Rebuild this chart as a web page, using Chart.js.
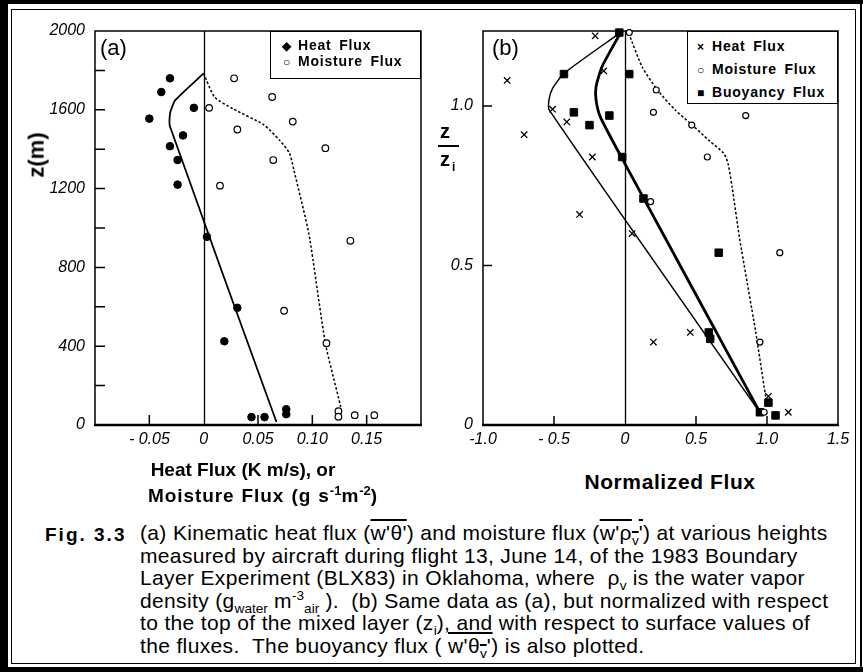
<!DOCTYPE html>
<html>
<head>
<meta charset="utf-8">
<script src="https://cdn.jsdelivr.net/npm/chart.js@4.4.1/dist/chart.umd.min.js"></script>
<style>
  body { margin: 0; background: #fff; }
  #page { position: relative; width: 863px; height: 672px; overflow: hidden; background: #fff; color: #000;
          font-family: "Liberation Sans", Arial, sans-serif; }
  .bar { position: absolute; background: #000; }
  canvas { position: absolute; top: 0; }
  .txt { position: absolute; white-space: nowrap; line-height: 1; }
  .legend { position: absolute; border: 1.5px solid #000; background: #fff; font-weight: bold; font-size: 14px;
            letter-spacing: 0.8px; word-spacing: 3px; box-sizing: border-box; }
  .legend div { position: absolute; white-space: nowrap; }
  .legend .mk { display: inline-block; width: 14px; font-size: 12px; text-align: center; margin-right: 4px; }
  .caption { position: absolute; left: 140px; top: 522px; font-family: "Liberation Sans", sans-serif;
             font-size: 21px; letter-spacing: 0.35px; line-height: 22.5px; white-space: nowrap; }
  .caption sub, .caption sup { font-size: 65%; line-height: 0; letter-spacing: 0; }
  .ov { text-decoration: overline; }
</style>
</head>
<body>
<div id="page">
  <!-- frame -->
  <div class="bar" style="left:0;top:0;width:8px;height:672px"></div>
  <div class="bar" style="left:0;top:0;width:863px;height:4px"></div>
  <div class="bar" style="left:0;top:667px;width:863px;height:5px"></div>
  <div class="bar" style="left:860px;top:0;width:2px;height:672px"></div>
  <div style="position:absolute;left:11px;top:9px;width:845px;height:655px;border:1.5px solid #000;box-sizing:border-box"></div>

  <canvas id="chartA" width="440" height="460" style="left:0"></canvas>
  <canvas id="chartB" width="423" height="460" style="left:440px"></canvas>

  <div class="txt" style="left:100px;top:37px;font-size:22px">(a)</div>
  <div class="txt" style="left:492px;top:37px;font-size:22px">(b)</div>

  <div class="txt" style="left:14px;top:144px;font-size:22px;font-weight:bold;transform:rotate(-90deg)">z(m)</div>

  <div class="txt" style="left:440px;top:121px;font-size:20px;font-weight:bold">z</div>
  <div style="position:absolute;left:438px;top:145px;width:21px;height:2px;background:#000"></div>
  <div class="txt" style="left:440px;top:149px;font-size:20px;font-weight:bold">z<span style="font-size:12px;position:relative;top:5px;margin-left:2px">i</span></div>

  <div class="legend" style="left:270px;top:31px;width:151px;height:48px">
    <div style="left:9px;top:5px"><span class="mk">&#9670;</span>Heat Flux</div>
    <div style="left:9px;top:21px"><span class="mk">&#9675;</span>Moisture Flux</div>
  </div>
  <div class="legend" style="left:687px;top:31px;width:151px;height:73px">
    <div style="left:6px;top:6px"><span class="mk">&#215;</span>Heat Flux</div>
    <div style="left:6px;top:29px"><span class="mk">&#9675;</span>Moisture Flux</div>
    <div style="left:6px;top:52px"><span class="mk">&#9632;</span>Buoyancy Flux</div>
  </div>

  <div class="txt" style="left:93px;top:460px;width:300px;text-align:center;font-size:19px;font-weight:bold">Heat Flux (K m/s), or</div>
  <div class="txt" style="left:113px;top:484px;width:300px;text-align:center;font-size:19px;font-weight:bold;letter-spacing:0.9px;word-spacing:1px">Moisture Flux (g s<sup style="font-size:13px;letter-spacing:0">-1</sup>m<sup style="font-size:13px;letter-spacing:0">-2</sup>)</div>
  <div class="txt" style="left:520px;top:471px;width:300px;text-align:center;font-size:21px;font-weight:bold;letter-spacing:0.6px">Normalized Flux</div>

  <div class="txt" style="left:45px;top:525px;font-size:19px;font-weight:bold;letter-spacing:2px">Fig. 3.3</div>
  <div class="caption">
    (a) Kinematic heat flux (<span class="ov">w'&#952;'</span>) and moisture flux (<span class="ov">w'&#961;<sub>v</sub>'</span>) at various heights<br>
    measured by aircraft during flight 13, June 14, of the 1983 Boundary<br>
    Layer Experiment (BLX83) in Oklahoma, where &nbsp;&#961;<sub>v</sub> is the water vapor<br>
    density (g<sub>water</sub> m<sup>-3</sup><sub>air</sub> ). &nbsp;(b) Same data as (a), but normalized with respect<br>
    to the top of the mixed layer (z<sub>i</sub>)<u>, and</u> with respect to surface values of<br>
    the fluxes. &nbsp;The buoyancy flux ( <span class="ov">w'&#952;<sub>v</sub>'</span>) is also plotted.
  </div>
</div>

<script>
// ---- panel (a): fluxes vs height z (m) ----
const heatFluxA = [-0.031, -0.039, -0.009, -0.050, -0.019, -0.031, -0.024, -0.024, 0.003, 0.031, 0.019, 0.044, 0.056, 0.076, 0.076];
const heatZA = [1760, 1690, 1610, 1555, 1470, 1415, 1345, 1220, 955, 595, 425, 40, 40, 80, 55];
const moistFluxA = [0.028, 0.063, 0.005, 0.082, 0.031, 0.112, 0.064, 0.015, 0.135, 0.074, 0.113, 0.124, 0.124, 0.139, 0.157];
const moistZA = [1760, 1665, 1610, 1540, 1500, 1405, 1345, 1215, 935, 580, 415, 70, 42, 50, 50];
// fitted profiles drawn in (a)
const heatLineXA = [0, -0.026, -0.029, -0.031, -0.031, 0.067];
const heatLineZA = [1785, 1650, 1615, 1580, 1515, 15];
const moistLineXA = [0, 0.010, 0.027, 0.055, 0.070, 0.079, 0.083, 0.097, 0.112, 0.126, 0.127];
const moistLineZA = [1785, 1665, 1605, 1525, 1445, 1380, 1295, 965, 415, 95, 60];
// axis ticks (a)
const xTicksA = [-0.1, -0.05, 0, 0.05, 0.10, 0.15, 0.2];
const xTickTextA = ['', '- 0.05', '0', '0.05', '0.10', '0.15', ''];
const yTicksA = [0, 200, 400, 600, 800, 1000, 1200, 1400, 1600, 1800, 2000];
const yTickTextA = ['0', '', '400', '', '800', '', '1200', '', '1600', '', '2000'];

// ---- panel (b): normalized flux vs z/zi ----
const heatFluxB = [-0.21, -0.83, -0.15, -0.51, -0.41, -0.71, -0.23, -0.32, 0.05, 0.20, 0.46, 1.01, 1.15];
const heatZB = [1.22, 1.08, 1.11, 0.99, 0.95, 0.91, 0.84, 0.66, 0.60, 0.26, 0.29, 0.09, 0.04];
const moistFluxB = [0.03, 0.22, 0.20, 0.47, 0.85, 0.58, 0.18, 1.09, 0.95, 0.98];
const moistZB = [1.23, 1.05, 0.98, 0.94, 0.97, 0.84, 0.70, 0.54, 0.26, 0.04];
const buoyFluxB = [-0.04, -0.43, 0.03, -0.36, -0.11, -0.25, -0.02, 0.13, 0.66, 0.59, 0.60, 1.01, 0.95, 1.06];
const buoyZB = [1.23, 1.10, 1.10, 0.98, 0.97, 0.94, 0.84, 0.71, 0.54, 0.29, 0.27, 0.07, 0.04, 0.03];
const heatLineXB = [-0.035, -0.43, -0.51, -0.535, -0.533, 0.953];
const heatLineZB = [1.229, 1.102, 1.055, 1.02, 0.987, 0.037];
const buoyLineXB = [-0.033, -0.162, -0.204, -0.204, -0.174, -0.021, 0.953];
const buoyLineZB = [1.228, 1.123, 1.06, 1.019, 0.966, 0.836, 0.037];
const moistLineXB = [0.026, 0.12, 0.225, 0.354, 0.467, 0.589, 0.695, 0.725, 0.754, 0.807, 0.918, 1.0];
const moistLineZB = [1.228, 1.123, 1.052, 0.987, 0.943, 0.893, 0.852, 0.821, 0.747, 0.585, 0.298, 0.06];
// axis ticks (b)
const xTicksB = [-1.0, -0.5, 0, 0.5, 1.0, 1.5];
const xTickTextB = ['-1.0', '- 0.5', '0', '0.5', '1.0', '1.5'];
const yTicksB = [0, 0.5, 1.0];
const yTickTextB = ['0', '0.5', '1.0'];

const pts = (xs, ys) => xs.map((v, i) => ({ x: v, y: ys[i] }));

// box, zero line and inward tick marks
const panelFrame = {
  id: 'panelFrame',
  beforeDatasetsDraw(chart, args, opts) {
    const { ctx, chartArea: a, scales: { x, y } } = chart;
    ctx.save();
    ctx.strokeStyle = '#000';
    ctx.lineWidth = 1.3;
    const x0 = Math.round(x.getPixelForValue(0)) + 0.5;
    ctx.beginPath();
    ctx.moveTo(x0, a.top);
    ctx.lineTo(x0, a.bottom);
    ctx.stroke();

    ctx.lineWidth = 1.5;
    ctx.beginPath();
    opts.yMarks.forEach(v => {
      const py = y.getPixelForValue(v);
      ctx.moveTo(a.left, py);
      ctx.lineTo(a.left + opts.len, py);
    });
    opts.xMarks.forEach(v => {
      const px = x.getPixelForValue(v);
      ctx.moveTo(px, a.bottom);
      ctx.lineTo(px, a.bottom - opts.len);
    });
    ctx.stroke();

    ctx.lineWidth = 1.5;
    ctx.strokeRect(a.left, a.top, a.width, a.height);
    ctx.lineWidth = 2.5;
    ctx.beginPath();
    ctx.moveTo(a.left - 1, a.bottom);
    ctx.lineTo(a.right + 1, a.bottom);
    ctx.stroke();
    ctx.restore();
  }
};

const tickFont = { family: 'Liberation Sans', size: 16, style: 'italic' };

function axis(min, max, ticks, texts, size, pad, isY) {
  return {
    type: 'linear',
    min: min,
    max: max,
    grid: { display: false, drawTicks: false },
    border: { display: false },
    afterBuildTicks: s => { s.ticks = ticks.map(v => ({ value: v })); },
    afterFit: s => { if (isY) s.width = size; else s.height = size; },
    ticks: {
      color: '#000',
      font: tickFont,
      padding: pad,
      autoSkip: false,
      maxRotation: 0,
      callback: (v, i) => texts[i]
    }
  };
}

function lineSet(xs, ys, width, dash) {
  return {
    data: pts(xs, ys),
    showLine: true,
    borderColor: '#000',
    borderWidth: width,
    borderDash: dash,
    pointRadius: 0,
    tension: 0.2,
    fill: false
  };
}

function baseOptions(padding, scales, marks) {
  return {
    responsive: false,
    animation: false,
    layout: { padding: padding },
    scales: scales,
    plugins: { legend: { display: false }, tooltip: { enabled: false }, panelFrame: marks }
  };
}

new Chart(document.getElementById('chartA'), {
  type: 'scatter',
  data: {
    datasets: [
      { data: pts(heatFluxA, heatZA), pointStyle: 'circle', pointRadius: 3.8, backgroundColor: '#000', borderColor: '#000', borderWidth: 1, clip: false },
      { data: pts(moistFluxA, moistZA), pointStyle: 'circle', pointRadius: 3.3, backgroundColor: '#fff', borderColor: '#000', borderWidth: 1.2, clip: false },
      lineSet(heatLineXA, heatLineZA, 1.8, []),
      lineSet(moistLineXA, moistLineZA, 1.5, [2.5, 2])
    ]
  },
  options: baseOptions({ top: 31, left: 0, right: 19, bottom: 5 }, {
    x: axis(-0.1, 0.2, xTicksA, xTickTextA, 30, 5, false),
    y: axis(0, 2000, yTicksA, yTickTextA, 95, 10, true)
  }, { len: 10, xMarks: [-0.05, 0.05, 0.10, 0.15], yMarks: [200, 400, 600, 800, 1000, 1200, 1400, 1600, 1800] }),
  plugins: [panelFrame]
});

new Chart(document.getElementById('chartB'), {
  type: 'scatter',
  data: {
    datasets: [
      { data: pts(heatFluxB, heatZB), pointStyle: 'crossRot', pointRadius: 4.5, borderColor: '#000', borderWidth: 1.3, clip: false },
      { data: pts(moistFluxB, moistZB), pointStyle: 'circle', pointRadius: 3, backgroundColor: '#fff', borderColor: '#000', borderWidth: 1.2, clip: false },
      { data: pts(buoyFluxB, buoyZB), pointStyle: 'rect', pointRadius: 5.3, backgroundColor: '#000', borderColor: '#000', borderWidth: 1, clip: false },
      lineSet(heatLineXB, heatLineZB, 1.5, []),
      lineSet(buoyLineXB, buoyLineZB, 2.8, []),
      lineSet(moistLineXB, moistLineZB, 1.5, [2.5, 2])
    ]
  },
  options: baseOptions({ top: 31, left: 0, right: 25, bottom: 5 }, {
    x: axis(-1.0, 1.5, xTicksB, xTickTextB, 30, 5, false),
    y: axis(0, 1.235, yTicksB, yTickTextB, 43, 10, true)
  }, { len: 9, xMarks: [-0.5, 0.5, 1.0], yMarks: [0.5, 1.0] }),
  plugins: [panelFrame]
});
</script>
</body>
</html>
